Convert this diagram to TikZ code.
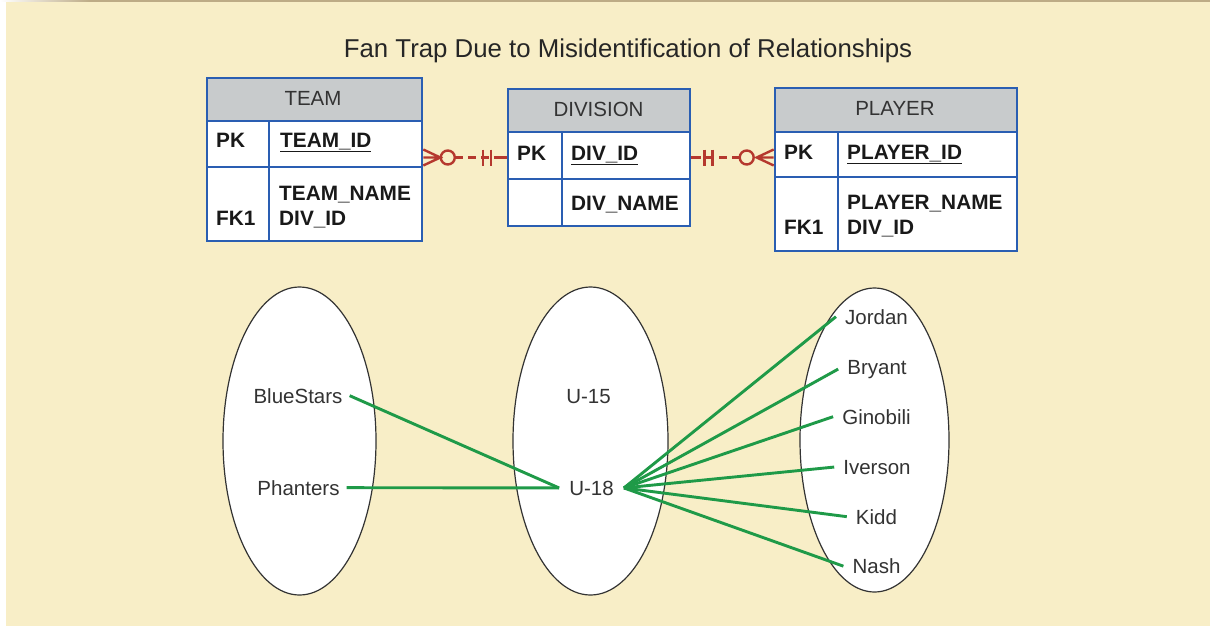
\documentclass[tikz,border=0pt]{standalone}
\usepackage{fontspec}
\setmainfont{Liberation Sans}
\usetikzlibrary{shapes.geometric,positioning}
\definecolor{cream}{HTML}{F8EEC7}
\definecolor{topbrown}{HTML}{BDAB86}
\definecolor{tblblue}{HTML}{2A5EB2}
\definecolor{hdrgray}{HTML}{C8CBCC}
\definecolor{relred}{HTML}{B5382E}
\definecolor{linkgreen}{HTML}{1F9A48}
\definecolor{inkgray}{HTML}{333333}

\begin{document}
\begin{tikzpicture}[x=1pt,y=-1pt,
 tbl/.style={draw=tblblue,line width=2.6pt,inner sep=0pt},
 tline/.style={draw=tblblue,line width=2.6pt},
 hdr/.style={font=\fontsize{20.5}{24}\selectfont,text=inkgray,anchor=base},
 fld/.style={font=\fontsize{20.8}{24}\selectfont\bfseries,text=black!90,anchor=base west,inner sep=0pt},
 setel/.style={ellipse,draw=inkgray,fill=white,line width=1.2pt,inner sep=0pt},
 lbl/.style={font=\fontsize{20.5}{24}\selectfont,text=inkgray,anchor=base,inner xsep=7pt},
 rel/.style={draw=relred,line width=2.4pt},
 reldash/.style={rel,dash pattern=on 8pt off 5pt},
 link/.style={draw=linkgreen,line width=2.9pt}]
%background and top strip
\useasboundingbox (0,0) rectangle (1210,626);
\fill[cream] (6,2) rectangle (1210,626);
\fill[topbrown] (90,0) rectangle (1210,2);
\shade[left color=white,right color=topbrown] (0,0) rectangle (90,2);
%title
\node[font=\fontsize{25.8}{30}\selectfont,text=black!85,anchor=base] (title) at (628,58) {Fan Trap Due to Misidentification of Relationships};
%team table
\fill[white] (207,78) rectangle (422,241); \fill[hdrgray] (207,78) rectangle (422,121);
\draw[tline] (207,121) -- (422,121) (207,167) -- (422,167) (269,121) -- (269,241);
\node[tbl,minimum width=215,minimum height=163] (team) at (314.5,159.5) {};
\node[hdr] (teamT) at (313,105) {TEAM};
\node[fld] (teamPK) at (216,147.5) {PK}; \node[fld] (teamID) at (280,147.5) {\underline{TEAM\_ID}};
\node[fld] (teamNM) at (279,200) {TEAM\_NAME}; \node[fld] (teamFK) at (279,225) {DIV\_ID};
\node[fld] (teamF1) at (216,225) {FK1};
%division table
\fill[white] (508,89) rectangle (690,226); \fill[hdrgray] (508,89) rectangle (690,132);
\draw[tline] (508,132) -- (690,132) (508,179) -- (690,179) (562,132) -- (562,226);
\node[tbl,minimum width=182,minimum height=137] (division) at (599,157.5) {};
\node[hdr] (divT) at (598.5,116) {DIVISION};
\node[fld] (divPK) at (517,160) {PK}; \node[fld] (divID) at (571,160) {\underline{DIV\_ID}};
\node[fld] (divNM) at (571,210) {DIV\_NAME};
%player table
\fill[white] (775,88) rectangle (1017,251); \fill[hdrgray] (775,88) rectangle (1017,132);
\draw[tline] (775,132) -- (1017,132) (775,177) -- (1017,177) (838,132) -- (838,251);
\node[tbl,minimum width=242,minimum height=163] (player) at (896,169.5) {};
\node[hdr] (plT) at (895,115) {PLAYER};
\node[fld] (plPK) at (784,159.5) {PK}; \node[fld] (plID) at (847,159.5) {\underline{PLAYER\_ID}};
\node[fld] (plNM) at (847,209.5) {PLAYER\_NAME}; \node[fld] (plFK) at (847,234.5) {DIV\_ID};
\node[fld] (plF1) at (784,234.5) {FK1};
%team >o--|| division
\coordinate (r1a) at (team.east |- division.west); \coordinate (r1b) at (division.west);
\draw[rel] (r1a) ++(0,-8) -- ++(17,8) -- ++(-17,8) (r1a) -- ++(17,0);
\draw[rel] (r1a) ++(24.5,0) circle (7);
\draw[reldash] (r1a) ++(31.5,0) -- (r1b);
\draw[rel] (r1b) ++(-24,-8) -- ++(0,16) (r1b) ++(-16,-8) -- ++(0,16) (r1b) -- ++(-7,0);
%division ||--o< player
\coordinate (r2a) at (division.east); \coordinate (r2b) at (player.west |- division.east);
\draw[rel] (r2b) ++(0,-8) -- ++(-17,8) -- ++(17,8) (r2b) -- ++(-17,0);
\draw[rel] (r2b) ++(-27,0) circle (7);
\draw[reldash] (r2b) ++(-34,0) -- (r2a);
\draw[rel] (r2a) ++(13,-8) -- ++(0,16) (r2a) ++(21,-8) -- ++(0,16) (r2a) -- ++(7,0);
%sets
\node[setel,minimum width=153,minimum height=308] (teamset) at (299.5,441) {};
\node[setel,minimum width=155,minimum height=308] (divset) at (590.5,441) {};
\node[setel,minimum width=149,minimum height=304] (plset) at (874.5,440) {};
%members
\node[lbl] (bluestars) at (298,403) {BlueStars};
\node[lbl] (phanters) at (298.5,495) {Phanters};
\node[lbl] (u15) at (588.5,403) {U-15};
\node[lbl,inner xsep=10pt] (u18) at (591.5,495) {U-18};
\node[lbl,inner xsep=9pt] (jordan) at (876.5,324) {Jordan};
\node[lbl,inner xsep=9pt] (bryant) at (877,374) {Bryant};
\node[lbl,inner xsep=9pt] (ginobili) at (876.5,424) {Ginobili};
\node[lbl,inner xsep=9pt] (iverson) at (877,474) {Iverson};
\node[lbl,inner xsep=9pt] (kidd) at (876.5,524) {Kidd};
\node[lbl,inner xsep=9pt] (nash) at (876.5,573.5) {Nash};
%links
\draw[link] (bluestars.east) -- (u18.west); \draw[link] (phanters.east) -- (u18.west);
\foreach \p in {jordan,bryant,ginobili,iverson,kidd,nash}
  \draw[link] (u18.east) -- (\p.west);
\end{tikzpicture}
\end{document}
